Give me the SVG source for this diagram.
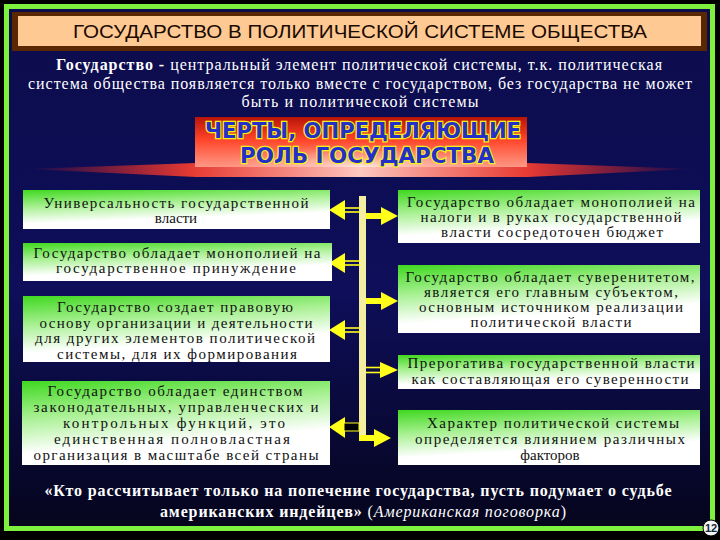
<svg xmlns="http://www.w3.org/2000/svg" xmlns:xlink="http://www.w3.org/1999/xlink" width="720" height="540" viewBox="0 0 720 540">
<defs>
<linearGradient id="bg" x1="0" y1="0" x2="0" y2="1">
<stop offset="0" stop-color="#0c0c4c"/>
<stop offset="0.55" stop-color="#0e0e5a"/>
<stop offset="1" stop-color="#05051c"/>
</linearGradient>
<linearGradient id="boxg" x1="0" y1="0" x2="0.3" y2="1">
<stop offset="0" stop-color="#3fd81f"/>
<stop offset="0.4" stop-color="#a6f090"/>
<stop offset="0.8" stop-color="#ffffff"/>
<stop offset="1" stop-color="#ffffff"/>
</linearGradient>
<linearGradient id="bannerg" x1="0" y1="0" x2="0" y2="1">
<stop offset="0" stop-color="#b81408"/>
<stop offset="0.45" stop-color="#ff4428"/>
<stop offset="1" stop-color="#ff9a88"/>
</linearGradient>
<radialGradient id="bannerglow" cx="0.5" cy="1" r="0.5" fx="0.5" fy="1">
<stop offset="0" stop-color="#fff0e8" stop-opacity="0.9"/>
<stop offset="0.6" stop-color="#ffb0a0" stop-opacity="0.4"/>
<stop offset="1" stop-color="#ff6040" stop-opacity="0"/>
</radialGradient>
<linearGradient id="flareg" x1="0" y1="0" x2="1" y2="0">
<stop offset="0" stop-color="#ff2010" stop-opacity="0"/>
<stop offset="0.25" stop-color="#ff4030" stop-opacity="0.9"/>
<stop offset="0.5" stop-color="#ffc8c0"/>
<stop offset="0.75" stop-color="#ff4030" stop-opacity="0.9"/>
<stop offset="1" stop-color="#ff2010" stop-opacity="0"/>
</linearGradient>
<style>
.box{fill:url(#boxg);}
.bt{font-family:'Liberation Serif','Times New Roman','DejaVu Serif',serif;font-size:15px;fill:#111;text-anchor:middle;}
.wt{font-family:'Liberation Serif','Times New Roman','DejaVu Serif',serif;font-size:16px;fill:#fff;text-anchor:middle;}
.ban{font-family:'DejaVu Sans','Liberation Sans',sans-serif;font-weight:bold;font-size:21px;fill:#2430c8;stroke:#f4f020;stroke-width:2.4px;paint-order:stroke;text-anchor:middle;}
.ay{fill:#ffff1a;}
.al{stroke:#ffff1a;stroke-width:1.6;}
</style>
<g id="arrL">
<polygon class="ay" points="0,0 16,-10 16,10"/>
<line class="al" x1="15" y1="-2" x2="31" y2="-2"/>
<line class="al" x1="15" y1="2" x2="31" y2="2"/>
</g>
<g id="arrRs">
<path class="ay" d="M0,-3 H15 V-9 L32,0 L15,9 V3 H0 Z"/>
</g>
<g id="arrRd">
<polygon class="ay" points="14,-8 32,0 14,8"/>
<line class="al" x1="0" y1="-2.5" x2="15" y2="-2.5"/>
<line class="al" x1="0" y1="2.5" x2="15" y2="2.5"/>
</g>
</defs>

<rect x="0" y="0" width="720" height="540" fill="#000"/>
<rect x="7" y="7" width="706" height="522" fill="url(#bg)"/>
<rect x="6.5" y="6.5" width="706" height="522" fill="none" stroke="#7ef03e" stroke-width="5"/>

<g id="title">
<rect x="12" y="12" width="695" height="39" fill="#5a2800"/>
<rect x="18" y="16" width="683" height="30" fill="#ffc994"/>
<text x="360" y="38" font-family="Liberation Sans, Arial, sans-serif" font-size="19" fill="#1a0a00" text-anchor="middle" textLength="574" lengthAdjust="spacingAndGlyphs">ГОСУДАРСТВО В ПОЛИТИЧЕСКОЙ СИСТЕМЕ ОБЩЕСТВА</text>
</g>

<g id="intro">
<text class="wt" x="359" y="70" textLength="606"><tspan font-weight="bold">Государство -</tspan> центральный элемент политической системы, т.к. политическая</text>
<text class="wt" x="360" y="89" textLength="664">система общества появляется только вместе с государством, без государства не может</text>
<text class="wt" x="360" y="107" textLength="237">быть и политической системы</text>
</g>

<g id="banner">
<polygon points="26,169 196,163 528,163 694,169 528,177 196,177" fill="url(#flareg)"/>
<rect x="195" y="117" width="332" height="50" fill="url(#bannerg)"/>
<rect x="195" y="117" width="332" height="50" fill="url(#bannerglow)"/>
<text class="ban" x="363" y="138" textLength="316" lengthAdjust="spacingAndGlyphs">ЧЕРТЫ, ОПРЕДЕЛЯЮЩИЕ</text>
<text class="ban" x="367" y="163" textLength="254" lengthAdjust="spacingAndGlyphs">РОЛЬ ГОСУДАРСТВА</text>
</g>

<g id="connectors">
<rect x="359" y="196" width="7" height="245" fill="#f4eea0"/>
<use xlink:href="#arrL" x="329" y="210"/>
<use xlink:href="#arrL" x="329" y="263"/>
<use xlink:href="#arrL" x="329" y="330"/>
<polygon class="ay" points="329,427 345,417 345,438"/>
<rect x="344" y="423" width="15" height="8" fill="#000" stroke="#ffff1a" stroke-width="1"/>
<use xlink:href="#arrRs" x="366" y="216"/>
<use xlink:href="#arrRs" x="366" y="301"/>
<use xlink:href="#arrRd" x="366" y="370"/>
<use xlink:href="#arrRs" x="359" y="438"/>
</g>

<g id="node-l1">
<rect class="box" x="23" y="190" width="307" height="39"/>
<text class="bt" x="176" y="208" textLength="265">Универсальность государственной</text>
<text class="bt" x="176" y="223">власти</text>
</g>
<g id="node-l2">
<rect class="box" x="23" y="243" width="309" height="38"/>
<text class="bt" x="177" y="258" textLength="287">Государство обладает монополией на</text>
<text class="bt" x="176" y="273" textLength="240">государственное принуждение</text>
</g>
<g id="node-l3">
<rect class="box" x="23" y="296" width="307" height="66"/>
<text class="bt" x="175" y="312" textLength="236">Государство создает правовую</text>
<text class="bt" x="176" y="328" textLength="273">основу организации и деятельности</text>
<text class="bt" x="175" y="343" textLength="280">для других элементов политической</text>
<text class="bt" x="177" y="359" textLength="240">системы, для их формирования</text>
</g>
<g id="node-l4">
<rect class="box" x="22" y="381" width="308" height="84"/>
<text class="bt" x="175" y="396" textLength="255">Государство обладает единством</text>
<text class="bt" x="176" y="412" textLength="285">законодательных, управленческих и</text>
<text class="bt" x="174" y="428" textLength="222">контрольных функций, это</text>
<text class="bt" x="172" y="444" textLength="236">единственная полновластная</text>
<text class="bt" x="176" y="460" textLength="285">организация в масштабе всей страны</text>
</g>

<g id="node-r1">
<rect class="box" x="398" y="190" width="302" height="53"/>
<text class="bt" x="551" y="207" textLength="288">Государство обладает монополией на</text>
<text class="bt" x="551" y="222" textLength="261">налоги и в руках государственной</text>
<text class="bt" x="552" y="237" textLength="222">власти сосредоточен бюджет</text>
</g>
<g id="node-r2">
<rect class="box" x="398" y="265" width="302" height="68"/>
<text class="bt" x="550" y="282" textLength="289">Государство обладает суверенитетом,</text>
<text class="bt" x="551" y="297" textLength="254">является его главным субъектом,</text>
<text class="bt" x="551" y="312" textLength="264">основным источником реализации</text>
<text class="bt" x="551" y="327" textLength="161">политической власти</text>
</g>
<g id="node-r3">
<rect class="box" x="398" y="355" width="302" height="34"/>
<text class="bt" x="551" y="368" textLength="287">Прерогатива государственной власти</text>
<text class="bt" x="550" y="384" textLength="277">как составляющая его суверенности</text>
</g>
<g id="node-r4">
<rect class="box" x="398" y="410" width="302" height="55"/>
<text class="bt" x="553" y="428" textLength="252">Характер политической системы</text>
<text class="bt" x="550" y="444" textLength="270">определяется влиянием различных</text>
<text class="bt" x="550" y="460">факторов</text>
</g>

<g id="quote">
<text class="wt" x="358" y="496" font-weight="bold" textLength="627">«Кто рассчитывает только на попечение государства, пусть подумает о судьбе</text>
<text class="wt" x="363" y="517" textLength="406"><tspan font-weight="bold">американских индейцев»</tspan> (<tspan font-style="italic">Американская поговорка</tspan>)</text>
</g>

<g id="page-num">
<circle cx="711" cy="528" r="8" fill="#f4f4f4" stroke="#000" stroke-width="1"/>
<text x="711" y="532" font-family="Liberation Sans, Arial, sans-serif" font-weight="bold" font-size="11" fill="#102838" text-anchor="middle">12</text>
</g>
</svg>
